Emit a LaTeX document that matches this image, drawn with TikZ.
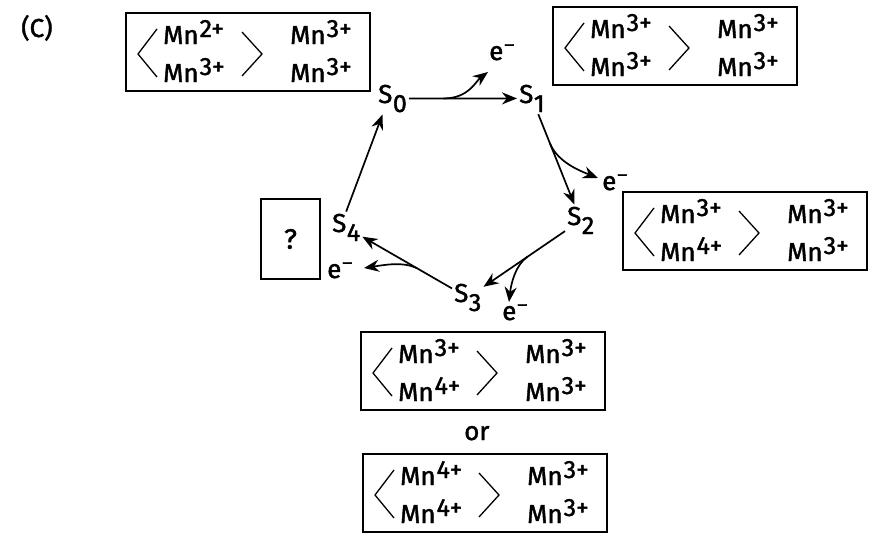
\documentclass[tikz,border=0pt]{standalone}
\usepackage{fontspec}
\setmainfont{Fira Sans}[FakeBold=1.5]
\usetikzlibrary{arrows.meta,positioning}

\newcommand{\supidx}[1]{\kern1pt\raisebox{7pt}{\fontsize{25}{25}\selectfont #1}}
\newcommand{\subidx}[1]{\kern0.5pt\raisebox{-9pt}{\fontsize{25}{25}\selectfont #1}}
\newcommand{\mn}[1]{Mn\supidx{#1}}
\newcommand{\elec}{e\kern1pt\raisebox{9pt}{\fontsize{19}{19}\selectfont –}}
% one box of four Mn ions, the left pair in angle brackets
\newcommand{\mnbox}[6]{%
  \node[oxframe] (#1) at (#2) {};
  \node[ion] (#1-a) at ([shift={(-85,-8)}]#1.center) {\mn{#3}};
  \node[ion] (#1-b) at ([shift={(-85,30)}]#1.center) {\mn{#4}};
  \node[ion] (#1-c) at ([shift={(42,-8)}]#1.center) {\mn{#5}};
  \node[ion] (#1-d) at ([shift={(42,30)}]#1.center) {\mn{#6}};
  \draw[bracket] ([shift={(-91,-23)}]#1.center) -- ([shift={(-110,2)}]#1.center) -- ([shift={(-91,25)}]#1.center);
  \draw[bracket] ([shift={(-6,-20)}]#1.center) -- ([shift={(14,2)}]#1.center) -- ([shift={(-6,24)}]#1.center);
}

\begin{document}
\begin{tikzpicture}[x=1pt, y=-1pt,
  oxframe/.style={draw, line width=1.8pt, minimum width=244pt, minimum height=78pt, inner sep=0pt},
  ion/.style={anchor=base west, inner sep=0pt, font=\fontsize{26}{30}\selectfont},
  bracket/.style={line width=1.3pt},
  snode/.style={anchor=base west, inner sep=2pt, font=\fontsize{26}{30}\selectfont},
  elabel/.style={anchor=base west, inner sep=0pt, font=\fontsize{26}{30}\selectfont},
  arrow/.style={-{Stealth[length=15pt,width=12pt]}, line width=1.7pt}
]
\fill[white] (0,0) rectangle (875,541);
\useasboundingbox (0,0) rectangle (875,541);

\node[ion, font=\fontsize{26}{30}\selectfont] (panel) at (21,37) {(C)};

% S-states
\node[snode] (s0) at (376,103) {S\subidx{0}};
\node[snode] (s1) at (517,103) {S\subidx{1}};
\node[snode] (s2) at (565,225) {S\subidx{2}};
\node[snode] (s3) at (452,302) {S\subidx{3}};
\node[snode] (s4) at (330,232) {S\subidx{4}};

% released electrons
\node[elabel] (e01) at (489,60) {\elec};
\node[elabel] (e12) at (602,190) {\elec};
\node[elabel] (e23) at (502,320) {\elec};
\node[elabel] (e34) at (327,278) {\elec};
\coordinate (t01) at (488,72);
\coordinate (t12) at (598,178);
\coordinate (t23) at (509,302);
\coordinate (t34) at (364,268);

% oxidation states
\mnbox{ox0}{248,52}{2+}{3+}{3+}{3+}
\mnbox{ox1}{675,46}{3+}{3+}{3+}{3+}
\mnbox{ox2}{745,231}{3+}{4+}{3+}{3+}
\mnbox{ox3a}{483,371}{3+}{4+}{3+}{3+}
\mnbox{ox3b}{485,493}{4+}{4+}{3+}{3+}
\node[ion] (or) at (464,440) {or};
\node[draw, line width=1.8pt, minimum width=59pt, minimum height=80pt, font=\fontsize{28}{32}\selectfont] (q) at (290.5,239) {?};

% cycle
\draw[arrow] (s0) -- coordinate[pos=0.32] (b01) (s1);
\draw[arrow] (s1) -- coordinate[pos=0.32] (b12) (s2);
\draw[arrow] (s2) -- coordinate[pos=0.46] (b23) (s3);
\draw[arrow] (s3) -- coordinate[pos=0.39] (b34) (s4);
\draw[arrow] (s4.north) -- ([xshift=-10pt]s0.south);
\draw[arrow] (b01) .. controls +(25,0) and +(-12,9) .. (t01);
\draw[arrow] (b12) .. controls +(8,20) and +(-15,-6) .. (t12);
\draw[arrow] (b23) .. controls +(-12,8) and +(2,-18) .. (t23);
\draw[arrow] (b34) .. controls +(-14,-7) and +(20,-3) .. (t34);
\end{tikzpicture}
\end{document}
